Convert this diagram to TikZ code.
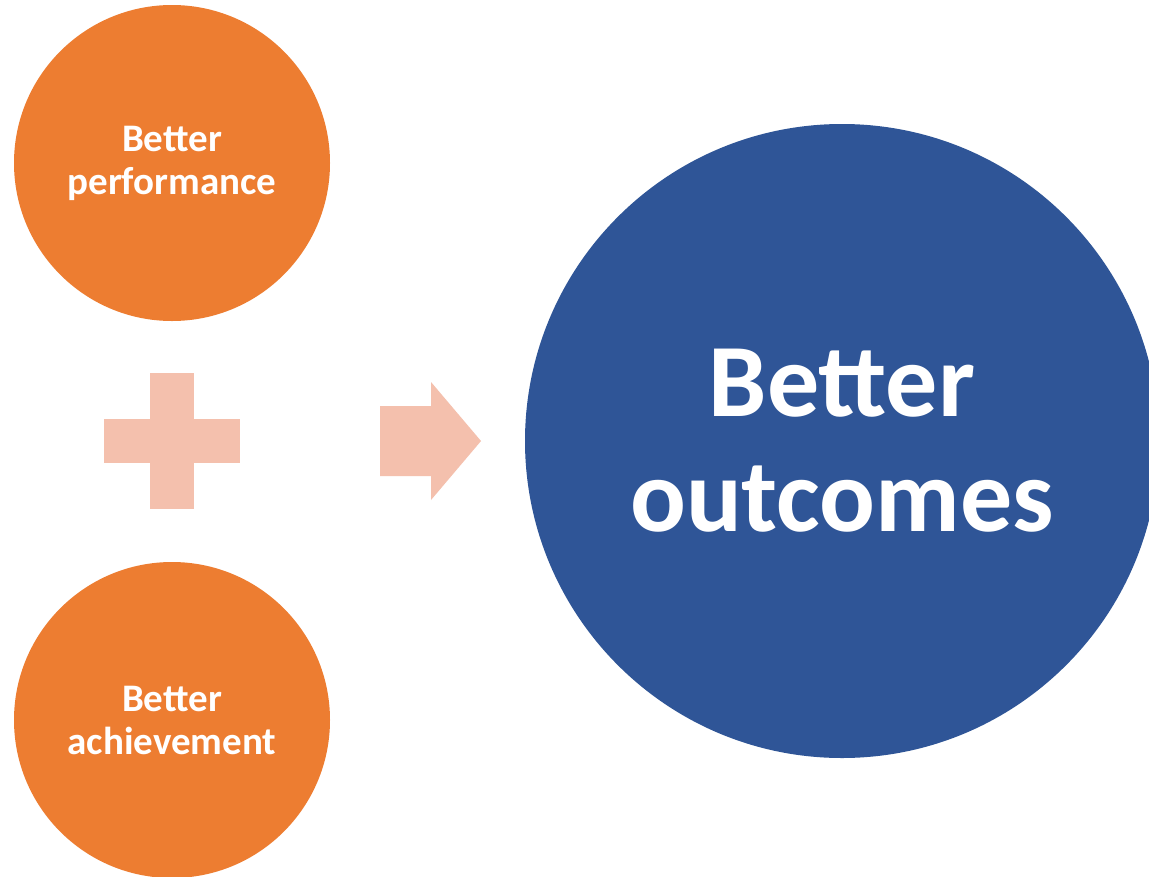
\documentclass[tikz,border=0pt]{standalone}
\usepackage{fontspec}
\setmainfont{Carlito}
\definecolor{orng}{HTML}{ED7D31}
\definecolor{blu}{HTML}{2F5597}
\definecolor{pnk}{HTML}{F4C0AD}
\begin{document}
\begin{tikzpicture}[x=1pt,y=-1pt,
  smallc/.style={circle,fill=orng,minimum size=316pt,inner sep=0pt,text=white,align=center,
    font=\fontsize{39}{43}\selectfont\bfseries},
  bigc/.style={circle,fill=blu,minimum size=634pt,inner sep=0pt,text=white,align=center,
    font=\fontsize{104}{115}\selectfont\bfseries},
  shp/.style={fill=pnk,draw=none}]
\useasboundingbox (0,0) rectangle (1149,876);
\fill[white] (0,0) rectangle (1149,876);
\begin{scope}
\clip (0,0) rectangle (1149,876);
\node[smallc] (perf) at (172,163) {Better\\performance};
\node[smallc] (ach) at (172,720) {Better\\achievement};
\node[bigc] (out) at (842,441) {Better\\outcomes};
\end{scope}
\coordinate (plus) at (172,441);
\fill[shp] ([shift={(-68,-22)}]plus) rectangle ([shift={(68,22)}]plus);
\fill[shp] ([shift={(-22,-68)}]plus) rectangle ([shift={(22,68)}]plus);
\coordinate (arr) at (380,441);
\fill[shp] ([shift={(0,-35)}]arr) -- ([shift={(51,-35)}]arr) -- ([shift={(51,-59)}]arr)
  -- ([shift={(101,0)}]arr) -- ([shift={(51,59)}]arr) -- ([shift={(51,35)}]arr)
  -- ([shift={(0,35)}]arr) -- cycle;
\end{tikzpicture}
\end{document}
